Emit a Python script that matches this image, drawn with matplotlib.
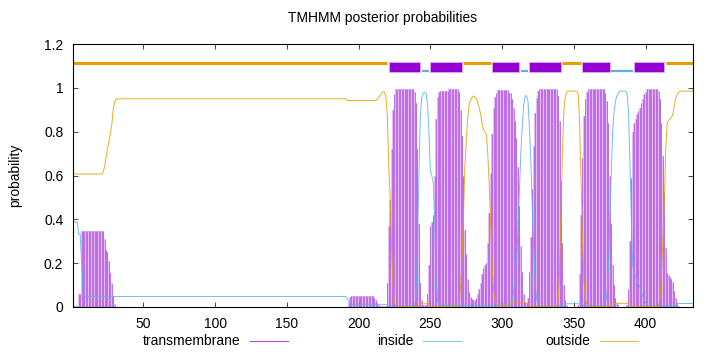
import matplotlib
matplotlib.use('Agg')
import matplotlib.pyplot as plt
from matplotlib.lines import Line2D
from matplotlib.patches import Rectangle
import numpy as np

plt.rcParams['font.family'] = ['Liberation Sans', 'DejaVu Sans']
plt.rcParams['font.size'] = 10

# posterior probabilities per residue (1..433)
outside = ([0.607] * 21
           + [0.615, 0.64, 0.68, 0.72, 0.755, 0.79, 0.83, 0.9, 0.935, 0.948]
           + [0.95] * 160
           + [0.942] * 21
           + [0.948, 0.955, 0.965, 0.975, 0.982, 0.982, 0.96, 0.88, 0.64, 0.5, 0.27, 0.09, 0.02]
           + [0.003] * 17
           + [0.015] * 7
           + [0.003] * 21
           + [0.09, 0.21, 0.39, 0.64, 0.75, 0.86, 0.92, 0.945, 0.955, 0.962,
              0.96, 0.95, 0.93, 0.91, 0.88, 0.84, 0.81, 0.8, 0.79, 0.7,
              0.56, 0.38, 0.2, 0.08, 0.03, 0.012]
           + [0.008] * 8
           + [0.017] * 14
           + [0.003] * 20
           + [0.03, 0.15, 0.42, 0.7, 0.89, 0.96, 0.978]
           + [0.985] * 7
           + [0.975, 0.84, 0.57, 0.31, 0.12, 0.04, 0.012]
           + [0.003] * 16
           + [0.017] * 14
           + [0.003] * 20
           + [0.04, 0.15, 0.3, 0.47, 0.72, 0.84, 0.85, 0.86, 0.865, 0.88,
              0.92, 0.955, 0.97, 0.98]
           + [0.985] * 10)

inside = ([0.388] * 4
          + [0.332] * 2
          + [0.2, 0.08]
          + [0.048] * 183
          + [0.04, 0.025, 0.015]
          + [0.012] * 26
          + [0.003] * 19
          + [0.05, 0.26, 0.6, 0.87, 0.955, 0.975, 0.98, 0.975, 0.93, 0.8,
             0.62, 0.6, 0.57, 0.38, 0.12, 0.03]
          + [0.008] * 51
          + [0.03, 0.07, 0.13, 0.21, 0.34, 0.52, 0.7, 0.82, 0.92, 0.96,
             0.965, 0.94, 0.82, 0.67, 0.45, 0.26, 0.11, 0.04, 0.01]
          + [0.003] * 18
          + [0.015] * 13
          + [0.004] * 15
          + [0.02, 0.055, 0.16, 0.39, 0.6, 0.8, 0.89, 0.94, 0.965, 0.975]
          + [0.985] * 5
          + [0.975, 0.9, 0.68, 0.4, 0.19, 0.16, 0.14, 0.12, 0.105, 0.09,
             0.07, 0.05, 0.03, 0.02, 0.01]
          + [0.004] * 20
          + [0.016] * 12)

transmembrane = ([0.005] * 4
                 + [0.06] * 2
                 + [0.347] * 16
                 + [0.31, 0.26, 0.25, 0.21, 0.155, 0.11, 0.05, 0.014]
                 + [0.0] * 162
                 + [0.02, 0.045]
                 + [0.048] * 16
                 + [0.04, 0.033, 0.02, 0.01]
                 + [0.005] * 5
                 + [0.11, 0.37, 0.49, 0.72, 0.9, 0.97]
                 + [0.995] * 13
                 + [0.98, 0.93, 0.72, 0.38, 0.11, 0.03]
                 + [0.008] * 3
                 + [0.06, 0.19, 0.37, 0.39, 0.42, 0.6, 0.86, 0.96, 0.98]
                 + [0.985] * 6
                 + [0.995] * 7
                 + [0.98, 0.9, 0.78, 0.6, 0.35, 0.24, 0.13, 0.07, 0.045, 0.035,
                    0.03, 0.03, 0.04, 0.06, 0.08, 0.11, 0.15, 0.18, 0.19, 0.2,
                    0.29, 0.43, 0.61, 0.79, 0.91, 0.96, 0.975]
                 + [0.99] * 8
                 + [0.975, 0.975, 0.95, 0.91, 0.85, 0.77, 0.64, 0.46, 0.28, 0.16,
                    0.06, 0.023, 0.018, 0.04, 0.16, 0.32, 0.54, 0.735, 0.885, 0.955,
                    0.985]
                 + [0.995] * 13
                 + [0.965, 0.85, 0.57, 0.29, 0.1, 0.03, 0.01]
                 + [0.0] * 7
                 + [0.01, 0.15, 0.42, 0.68, 0.87, 0.95, 0.98]
                 + [0.993] * 12
                 + [0.975, 0.94, 0.84, 0.6, 0.38, 0.19, 0.1, 0.04, 0.02, 0.01]
                 + [0.0] * 5
                 + [0.01, 0.08, 0.3, 0.59, 0.8, 0.84, 0.86, 0.88, 0.895, 0.91,
                    0.93, 0.95, 0.97, 0.98]
                 + [0.993] * 8
                 + [0.985, 0.95, 0.84, 0.69, 0.52, 0.27, 0.155, 0.145, 0.135, 0.13,
                    0.115, 0.075, 0.04, 0.02, 0.005]
                 + [0.0] * 10)

# predicted topology (first, last residue)
outside_segments = [(1, 220), (273, 292), (342, 355), (414, 433)]
inside_segments = [(244, 249), (313, 318), (376, 391)]
tm_segments = [(221, 243), (250, 272), (293, 312), (319, 341), (356, 375), (392, 413)]

xticks = [50, 100, 150, 200, 250, 300, 350, 400]
yticks = [0, 0.2, 0.4, 0.6, 0.8, 1, 1.2]

tm_color = '#9400d3'
in_color = '#56b4e9'
out_color = '#e69f00'

residues = np.arange(1, len(transmembrane) + 1)

fig = plt.figure(figsize=(7.2, 3.52), dpi=100)
ax = fig.add_axes([73 / 720, 1 - 307 / 352, 620 / 720, 263 / 352])

# impulses: light fill between, darker stripes per residue
ax.bar(residues, transmembrane, width=1.0, color='#e2bcf3', linewidth=0)
ax.vlines(residues, 0, transmembrane, colors='#b860e4', lw=0.6)
ax.plot(residues, inside, color=in_color, lw=0.7, alpha=0.85)
ax.plot(residues, outside, color=out_color, lw=0.7, alpha=0.85)

# topology bar on top
for s, e in outside_segments:
    ax.plot([s, e], [1.114, 1.114], color=out_color, lw=2.2, solid_capstyle='butt')
for s, e in inside_segments:
    ax.plot([s, e], [1.075, 1.075], color=in_color, lw=1.6, solid_capstyle='butt')
for s, e in tm_segments:
    ax.add_patch(Rectangle((s, 1.071), e - s, 0.047, facecolor=tm_color,
                           edgecolor='#dca8f0', lw=0.7))

ax.set_xlim(1, len(transmembrane))
ax.set_ylim(0, 1.2)
ax.set_xticks(xticks)
ax.set_yticks(yticks)
ax.set_yticklabels(['{:g}'.format(v) for v in yticks])
ax.tick_params(direction='in', top=True, right=True, length=3.5, width=0.5,
               labelsize=10, pad=7)
for sp in ax.spines.values():
    sp.set_linewidth(0.8)

ax.set_ylabel('probability', fontsize=10, labelpad=16)
fig.text(383 / 720, 1 - 18 / 352, 'TMHMM posterior probabilities', ha='center',
         va='center', fontsize=10)

# legend row under the axis
legend_y = 1 - 341 / 352
for label, color, xr in [('transmembrane', tm_color, 240),
                         ('inside', in_color, 413),
                         ('outside', out_color, 590)]:
    fig.text(xr / 720, legend_y, label, ha='right', va='center', fontsize=10)
    fig.add_artist(Line2D([(xr + 10) / 720, (xr + 48) / 720], [legend_y, legend_y],
                          color=color, lw=0.8, alpha=0.7))

fig.savefig('out.png', dpi=100)
